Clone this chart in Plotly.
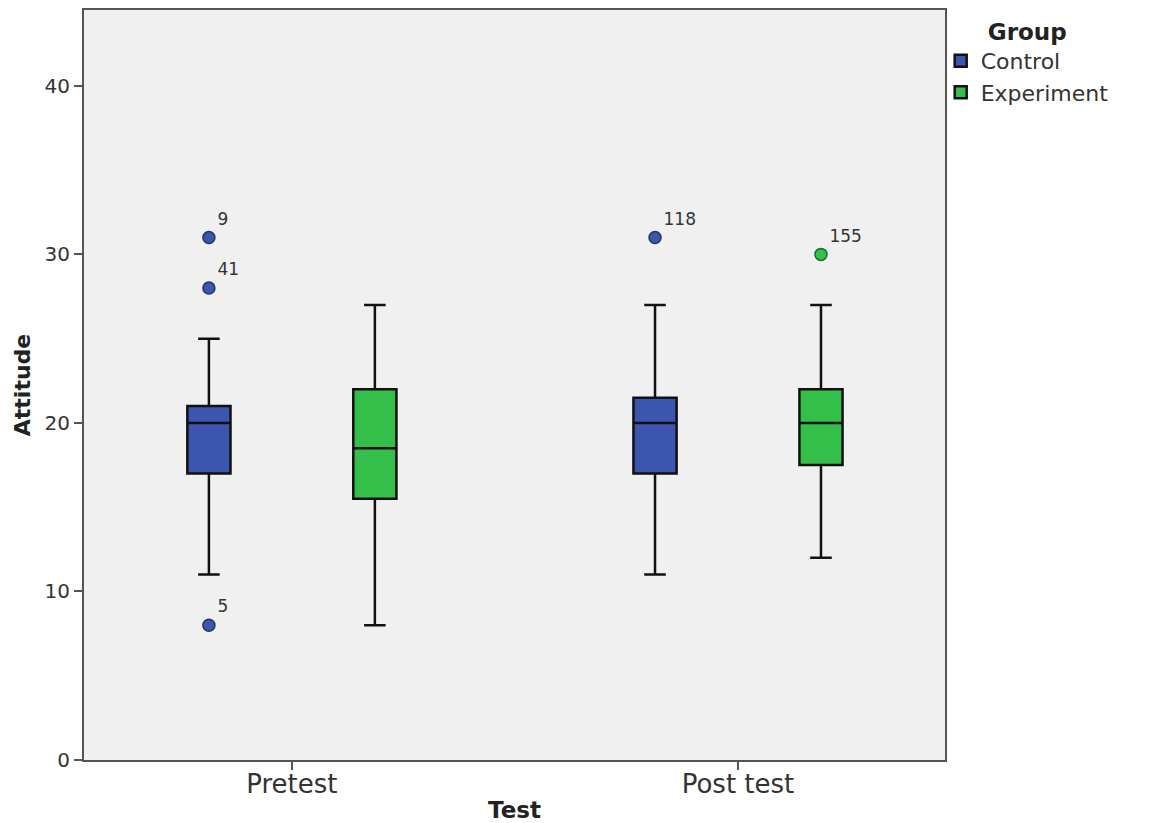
import plotly.graph_objects as go

tests = ["Pretest", "Post test"]
groups = ["Control", "Experiment"]
colors = {"Control": "#3c56ad", "Experiment": "#33bf4a"}

# box statistics per group, ordered as tests
q1 = {"Control": [17, 17], "Experiment": [15.5, 17.5]}
median = {"Control": [20, 20], "Experiment": [18.5, 20]}
q3 = {"Control": [21, 21.5], "Experiment": [22, 22]}
lower = {"Control": [11, 11], "Experiment": [8, 12]}
upper = {"Control": [25, 27], "Experiment": [27, 27]}

# outliers (test, value, case label)
out_group = ["Control", "Control", "Control", "Control", "Experiment"]
out_test = ["Pretest", "Pretest", "Pretest", "Post test", "Post test"]
out_value = [31, 28, 8, 31, 30]
out_label = ["9", "41", "5", "118", "155"]

fig = go.Figure()
for g in groups:
    fig.add_trace(go.Box(
        name=g, x=tests, q1=q1[g], median=median[g], q3=q3[g],
        lowerfence=lower[g], upperfence=upper[g],
        fillcolor=colors[g], line=dict(color="#111111", width=2.5),
        whiskerwidth=0.5, boxpoints=False, offsetgroup=g,
        legendgroup=g,
    ))
for g in groups:
    idx = [i for i, gg in enumerate(out_group) if gg == g]
    fig.add_trace(go.Scatter(
        x=[out_test[i] for i in idx], y=[out_value[i] for i in idx],
        text=[out_label[i] for i in idx], mode="markers+text",
        textposition="top right", textfont=dict(size=17, color="#333333", family="DejaVu Sans"),
        marker=dict(color=colors[g], size=12, line=dict(color="#223366" if g == "Control" else "#1d6b2a", width=1.5)),
        offsetgroup=g, showlegend=False, legendgroup=g, cliponaxis=False,
    ))

fig.update_layout(
    width=1166, height=823,
    margin=dict(l=84, r=221, t=10, b=63, autoexpand=False),
    paper_bgcolor="white", plot_bgcolor="#f0f0f0",
    boxmode="group", boxgap=0.256, boxgroupgap=0.74,
    scattermode="group", scattergap=0.256,
    font=dict(family="DejaVu Sans", color="#333333"),
    legend=dict(
        x=0.995, xanchor="left", y=1.0, yanchor="top",
        title=dict(text="<b>Group</b>", side="top center", font=dict(size=23, color="#222222")),
        font=dict(size=22, color="#333333"), bgcolor="rgba(0,0,0,0)",
        tracegroupgap=0,
    ),
    showlegend=True,
)
fig.update_xaxes(
    type="category", categoryorder="array", categoryarray=tests,
    range=[-0.466, 1.464], automargin=False,
    showline=True, linecolor="#555555", linewidth=2, mirror=True,
    ticks="outside", ticklen=8, tickwidth=2, tickcolor="#555555",
    ticklabelstandoff=-8,
    tickfont=dict(size=26, color="#333333"),
    title=dict(text="<b>Test</b>", font=dict(size=23, color="#222222"), standoff=10),
    showgrid=False, zeroline=False,
)
fig.update_yaxes(
    range=[0, 44.5], dtick=10, tick0=0, automargin=False,
    showline=True, linecolor="#555555", linewidth=2, mirror=True,
    ticks="outside", ticklen=8, tickwidth=2, tickcolor="#555555",
    tickfont=dict(size=20, color="#333333"),
    title=dict(text="<b>Attitude</b>", font=dict(size=22, color="#222222"), standoff=8),
    showgrid=False, zeroline=False,
)
fig.write_html("out.html", config={"displayModeBar": False},
               post_script="document.body.style.margin='0';document.body.style.overflow='hidden';")
